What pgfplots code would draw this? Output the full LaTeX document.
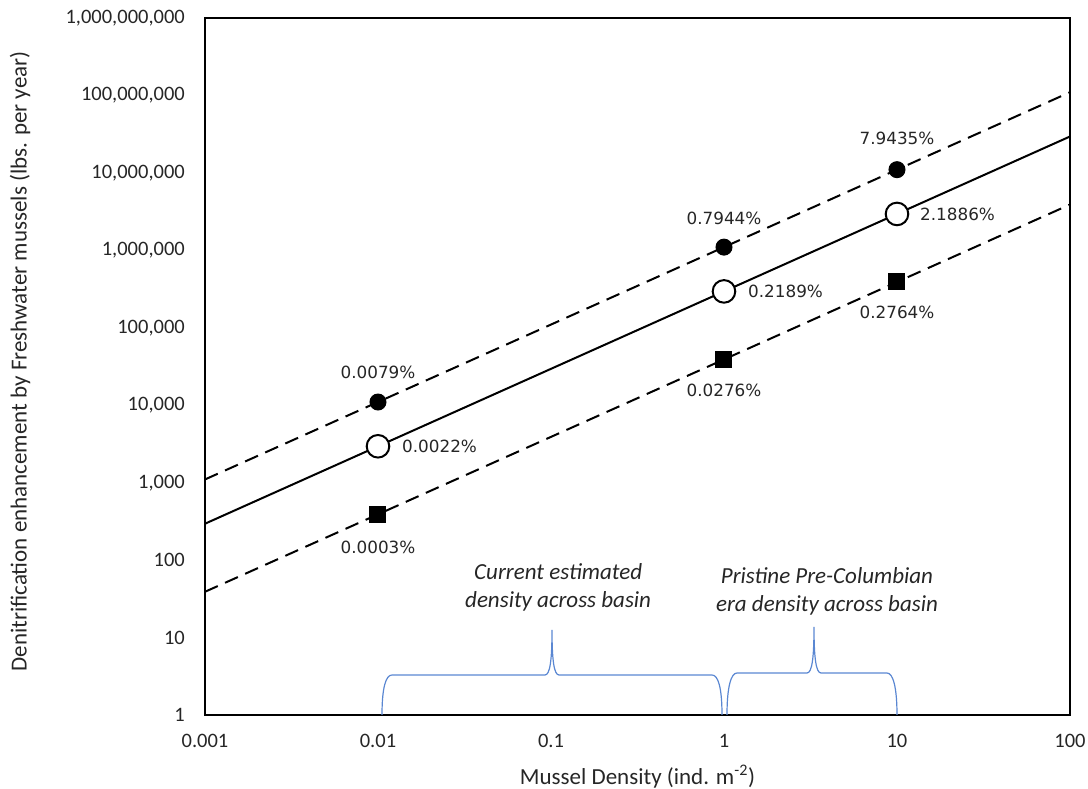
\documentclass[border=0pt]{standalone}
\usepackage{pgfplots}
\pgfplotsset{compat=1.18}
\usepackage{fontspec}
\setmainfont{Carlito}
\newfontfamily\dv{DejaVu Sans}
\definecolor{braceblue}{RGB}{90,135,210}
\begin{document}
\begin{tikzpicture}
\useasboundingbox (-205pt,-74pt) rectangle (883pt,715pt);
\begin{axis}[
  at={(0pt,0pt)}, anchor=south west,
  scale only axis, width=865pt, height=697pt,
  xmode=log, ymode=log,
  xmin=0.001, xmax=100, ymin=1, ymax=1e9,
  xtick={0.001,0.01,0.1,1,10,100},
  xticklabels={0.001,0.01,0.1,1,10,100},
  ytick={1,10,100,1000,10000,100000,1000000,10000000,100000000,1000000000},
  yticklabels={1,10,100,{1,000},{10,000},{100,000},{1,000,000},{10,000,000},{100,000,000},{1,000,000,000}},
  major tick length=0pt, minor tick length=0pt,
  axis line style={line width=2pt},
  tick label style={font=\fontsize{20.5}{24}\selectfont, inner sep=0pt, text=black!85},
  xticklabel style={anchor=base, yshift=-33pt},
  yticklabel style={anchor=east, xshift=-20pt},
  xlabel={Mussel Density (ind. m\textsuperscript{-2})},
  ylabel={Denitrification enhancement by Freshwater mussels (lbs. per year)},
  label style={font=\fontsize{23}{27}\selectfont, text=black!85},
  xlabel style={at={([yshift=-70pt]axis description cs:0.5,0)}, anchor=base},
  ylabel style={at={([xshift=-185pt,yshift=5pt]axis description cs:0,0.5)}, anchor=center},
]
% trend lines
\addplot[black, line width=2pt, dash pattern=on 14pt off 8pt] coordinates {(0.001,1100) (100,110000000)};
\addplot[black, line width=2pt] coordinates {(0.001,295) (100,29500000)};
\addplot[black, line width=2pt, dash pattern=on 14pt off 8pt] coordinates {(0.001,39) (100,3900000)};
% markers
\addplot[only marks, mark=*, mark size=8pt, black, mark options={fill=black, line width=1pt}] coordinates {(0.01,11000) (1,1100000) (10,11000000)};
\addplot[only marks, mark=*, mark size=11.3pt, black, mark options={fill=white, line width=2pt}] coordinates {(0.01,2950) (1,295000) (10,2950000)};
\addplot[only marks, mark=square*, mark size=8pt, black, mark options={fill=black, line width=1pt}] coordinates {(0.01,390) (1,39000) (10,390000)};
% data labels
\begin{scope}[every node/.style={font=\dv\fontsize{16.8}{20}\selectfont, inner sep=0pt, text=black!85}]
\node at ([yshift=30pt]axis cs:0.01,11000) {0.0079\%};
\node[anchor=west] at ([xshift=24pt]axis cs:0.01,2950) {0.0022\%};
\node at ([yshift=-33pt]axis cs:0.01,390) {0.0003\%};
\node at ([yshift=29pt]axis cs:1,1100000) {0.7944\%};
\node[anchor=west] at ([xshift=24pt]axis cs:1,295000) {0.2189\%};
\node at ([yshift=-31pt]axis cs:1,39000) {0.0276\%};
\node at ([yshift=31pt]axis cs:10,11000000) {7.9435\%};
\node[anchor=west] at ([xshift=23pt]axis cs:10,2950000) {2.1886\%};
\node at ([yshift=-30pt]axis cs:10,390000) {0.2764\%};
\end{scope}
% annotations
\node[font=\itshape\fontsize{23}{28}\selectfont, align=center, text=black!85] at (axis cs:0.11,45) {Current estimated\\density across basin};
\node[font=\itshape\fontsize{23}{28}\selectfont, align=center, text=black!85] at (axis cs:3.94,40) {Pristine Pre-Columbian\\era density across basin};
\end{axis}
% braces
\draw[braceblue, line width=1.2pt] (177pt,0pt) .. controls (177pt,28pt) and (181pt,40pt) .. (187pt,40pt) -- (340pt,40pt) .. controls (345pt,40pt) and (347pt,55pt) .. (347pt,85pt) .. controls (347pt,55pt) and (349pt,40pt) .. (354pt,40pt) -- (507pt,40pt) .. controls (513pt,40pt) and (517pt,28pt) .. (517pt,0pt);
\draw[braceblue, line width=1.2pt] (522pt,0pt) .. controls (522pt,28pt) and (526pt,42pt) .. (532pt,42pt) -- (602pt,42pt) .. controls (607pt,42pt) and (609pt,57pt) .. (609pt,88pt) .. controls (609pt,57pt) and (611pt,42pt) .. (616pt,42pt) -- (682pt,42pt) .. controls (688pt,42pt) and (692pt,28pt) .. (692pt,0pt);
\end{tikzpicture}
\end{document}
